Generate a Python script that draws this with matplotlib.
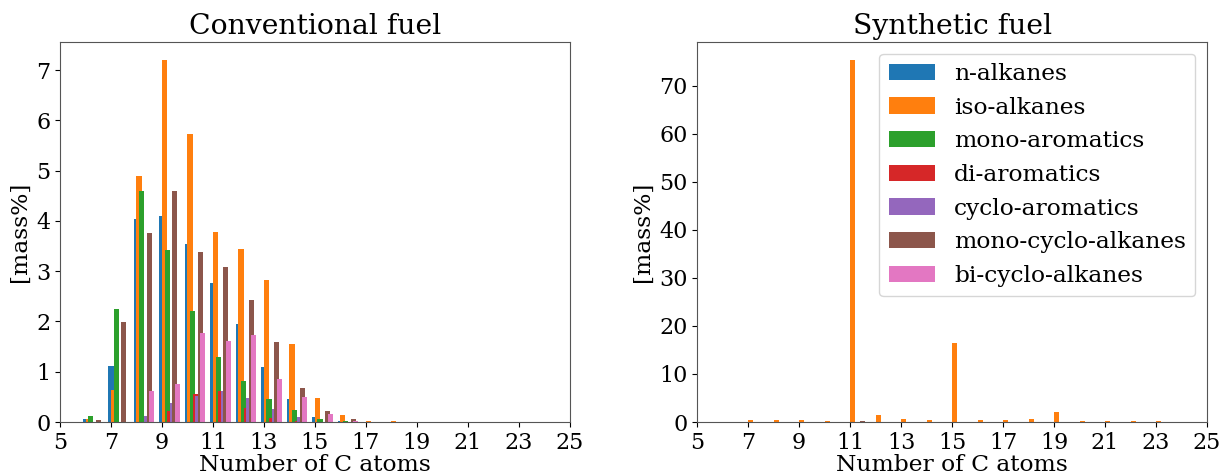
import matplotlib
matplotlib.use("Agg")
import matplotlib.pyplot as plt
import numpy as np

plt.rcParams['font.family'] = ['DejaVu Serif']
plt.rcParams['font.size'] = 16

# carbon numbers
carbons = np.arange(6, 24)

groups = ['n-alkanes', 'iso-alkanes', 'mono-aromatics', 'di-aromatics',
          'cyclo-aromatics', 'mono-cyclo-alkanes', 'bi-cyclo-alkanes']

# conventional fuel, mass% per carbon number (C6 .. C23)
conv_n_alkanes = [0.07, 1.11, 4.03, 4.10, 3.55, 2.76, 1.94, 1.09, 0.45, 0.10, 0.03, 0, 0, 0, 0, 0, 0, 0]
conv_iso_alkanes = [0.07, 0.63, 4.90, 7.20, 5.72, 3.78, 3.45, 2.83, 1.55, 0.47, 0.13, 0.03, 0.03, 0, 0, 0, 0, 0]
conv_mono_arom = [0.11, 2.25, 4.60, 3.43, 2.20, 1.29, 0.81, 0.45, 0.23, 0.07, 0.03, 0, 0, 0, 0, 0, 0, 0]
conv_di_arom = [0, 0, 0, 0.21, 0.55, 0.61, 0.27, 0.08, 0.03, 0, 0, 0, 0, 0, 0, 0, 0, 0]
conv_cyclo_arom = [0, 0, 0.11, 0.38, 0.51, 0.61, 0.47, 0.26, 0.10, 0, 0, 0, 0, 0, 0, 0, 0, 0]
conv_mono_cyclo = [0.05, 1.99, 3.76, 4.60, 3.39, 3.08, 2.43, 1.60, 0.68, 0.21, 0.07, 0, 0, 0, 0, 0, 0, 0]
conv_bi_cyclo = [0, 0, 0.61, 0.75, 1.78, 1.62, 1.74, 0.86, 0.49, 0.15, 0.03, 0, 0, 0, 0, 0, 0, 0]

# synthetic fuel, mass% per carbon number (C6 .. C23)
syn_n_alkanes = [0] * 18
syn_iso_alkanes = [0, 0.5, 0.4, 0.4, 0.2, 75.3, 1.45, 0.7, 0.4, 16.4, 0.4, 0.4, 0.7, 2.15, 0.2, 0.2, 0.2, 0.2]
syn_mono_arom = [0] * 18
syn_di_arom = [0] * 18
syn_cyclo_arom = [0] * 18
syn_mono_cyclo = [0, 0, 0, 0, 0, 0.2, 0, 0, 0, 0, 0, 0, 0, 0, 0, 0, 0, 0]
syn_bi_cyclo = [0] * 18

conv = [conv_n_alkanes, conv_iso_alkanes, conv_mono_arom, conv_di_arom,
        conv_cyclo_arom, conv_mono_cyclo, conv_bi_cyclo]
syn = [syn_n_alkanes, syn_iso_alkanes, syn_mono_arom, syn_di_arom,
       syn_cyclo_arom, syn_mono_cyclo, syn_bi_cyclo]

colors = plt.rcParams['axes.prop_cycle'].by_key()['color']

fig, axes = plt.subplots(1, 2, figsize=(12.25, 4.76), dpi=100)
fig.subplots_adjust(left=0.049, right=0.9853, bottom=0.1134, top=0.9118, wspace=0.25)

for ax, data, title in zip(axes, [conv, syn], ['Conventional fuel', 'Synthetic fuel']):
    for i, (name, vals) in enumerate(zip(groups, data)):
        ax.bar(carbons + 0.1 * i, vals, width=0.2, color=colors[i], label=name)
    ax.set_xlim(5, 25)
    ax.set_xticks(np.arange(5, 26, 2))
    ax.set_xlabel('Number of C atoms', labelpad=0, fontsize=16.8)
    ax.set_ylabel('[mass%]', fontsize=16.8)
    ax.set_title(title, fontsize=20.3)
    for s in ax.spines.values():
        s.set_color('#555555')

axes[1].legend(loc='upper right', fontsize=16.8)
# ticks at 10 steps for synthetic
axes[1].set_yticks(np.arange(0, 80, 10))

fig.savefig('out.png')
